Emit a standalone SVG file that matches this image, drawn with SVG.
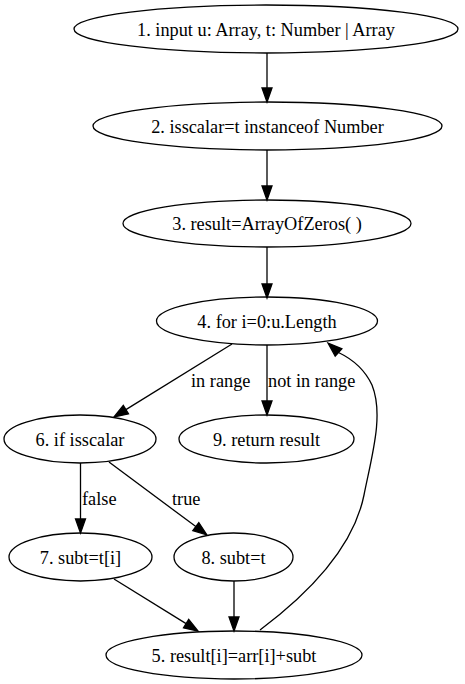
<svg xmlns="http://www.w3.org/2000/svg" width="465" height="684" viewBox="0 0 465 684">
<style>
.n ellipse{fill:none;stroke:#000;stroke-width:1.3}
.t{font-family:'Liberation Serif','DejaVu Serif',serif;font-size:18.3px;fill:#000}
.n text{text-anchor:middle}
.e path,.e line{fill:none;stroke:#000;stroke-width:1.3}
.e polygon{fill:#000;stroke:#000;stroke-width:1.3}
</style>
<rect width="465" height="684" fill="#fff"/>
<g id="node1" class="n"><ellipse cx="266" cy="29" rx="192" ry="24"/><text class="t" x="266" y="35.5">1. input u: Array, t: Number | Array</text></g>
<g id="node2" class="n"><ellipse cx="267.5" cy="126" rx="174.5" ry="24"/><text class="t" x="267.5" y="132.5">2. isscalar=t instanceof Number</text></g>
<g id="node3" class="n"><ellipse cx="267" cy="223.5" rx="144" ry="23.5"/><text class="t" x="267" y="230">3. result=ArrayOfZeros( )</text></g>
<g id="node4" class="n"><ellipse cx="267" cy="321" rx="110.5" ry="24"/><text class="t" x="267" y="327.5">4. for i=0:u.Length</text></g>
<g id="node6" class="n"><ellipse cx="80" cy="439" rx="76" ry="24"/><text class="t" x="80" y="445.5">6. if isscalar</text></g>
<g id="node9" class="n"><ellipse cx="266.5" cy="439" rx="87.5" ry="24"/><text class="t" x="266.5" y="445.5">9. return result</text></g>
<g id="node7" class="n"><ellipse cx="80.5" cy="557" rx="71.5" ry="24"/><text class="t" x="80.5" y="563.5">7. subt=t[i]</text></g>
<g id="node8" class="n"><ellipse cx="233.5" cy="557" rx="59.5" ry="24"/><text class="t" x="233.5" y="563.5">8. subt=t</text></g>
<g id="node5" class="n"><ellipse cx="234" cy="655" rx="128" ry="24"/><text class="t" x="234" y="661.5">5. result[i]=arr[i]+subt</text></g>
<g id="edges" class="e">
<line x1="267" y1="53" x2="267" y2="88"/><polygon points="267,102 262,88 272,88"/>
<line x1="267" y1="150" x2="267" y2="186"/><polygon points="267,200 262,186 272,186"/>
<line x1="267" y1="247" x2="267" y2="284"/><polygon points="267,298 262,284 272,284"/>
<line x1="232" y1="344" x2="125.9" y2="409.6"/><polygon points="114,417 123.3,405.4 128.5,413.9"/>
<text class="t" x="191" y="387">in range</text>
<line x1="267" y1="345" x2="267" y2="401"/><polygon points="267,415 262,401 272,401"/>
<text class="t" x="268" y="387">not in range</text>
<line x1="80.5" y1="463" x2="80.5" y2="519"/><polygon points="80.5,533 75.5,519 85.5,519"/>
<text class="t" x="82" y="505">false</text>
<line x1="109" y1="462" x2="195.8" y2="526.6"/><polygon points="207,535 192.8,530.6 198.8,522.6"/>
<text class="t" x="172" y="505">true</text>
<line x1="114" y1="579" x2="186.1" y2="623.6"/><polygon points="198,631 183.5,627.9 188.7,619.4"/>
<line x1="234" y1="581" x2="234" y2="617"/><polygon points="234,631 229,617 239,617"/>
<path d="M260,630 C320,585 355,540 364,495 C372,455 384,415 372,385 C364,368 350,358 338.5,352.5"/><polygon points="328,343 341.9,348.8 335.2,356.2"/>
</g>
</svg>
